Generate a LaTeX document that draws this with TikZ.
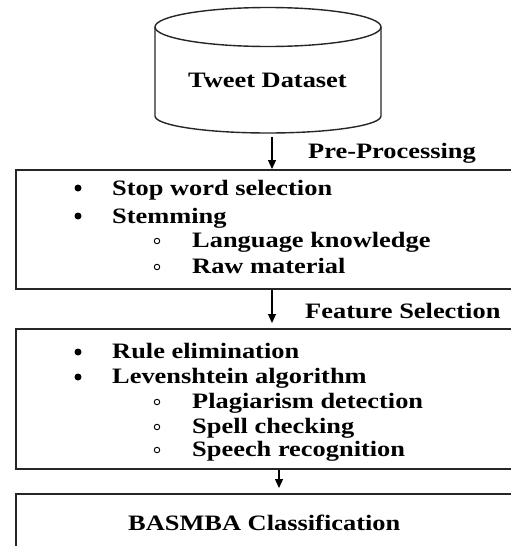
\documentclass[tikz,border=0pt]{standalone}
\usepackage{fontspec}
\newfontfamily\tf{Liberation Serif Bold}[FakeStretch=1.2]
\usetikzlibrary{arrows.meta}
\tikzset{
  box/.style={draw=black!85, line width=1.6pt, rectangle, minimum width=530pt, anchor=north west, inner sep=0pt},
  lbl/.style={font=\tf\fontsize{22}{24}\selectfont, anchor=base west, inner sep=0pt},
  flow/.style={line width=1.2pt, -{Triangle[length=9pt,width=8pt]}},
  dot/.style={circle, fill=black, inner sep=0pt, minimum size=7pt},
  odot/.style={circle, draw=black, line width=0.9pt, inner sep=0pt, minimum size=5.5pt},
  cyl/.style={line width=1.4pt, draw=black!85}
}
\begin{document}
\begin{tikzpicture}[x=1pt,y=-1pt]
\useasboundingbox (0,0) rectangle (511,546);
\clip (0,0) rectangle (511,546);
\fill[white] (0,0) rectangle (511,546);
% cylinder
\draw[cyl] (155,27) -- (155,116) arc[start angle=180,end angle=360,x radius=113,y radius=-17] -- (381,27);
\draw[cyl] (268,27) ellipse [x radius=113, y radius=19.5];
\node[lbl] (tweet) at (188,87) {Tweet Dataset};
\coordinate (c1) at (272,137);
% box 1
\node[box, minimum height=119pt] (b1) at (15,169) {};
\draw[flow] (c1) -- (c1 |- b1.north);
\node[lbl] (pre) at (308,158) {Pre-Processing};
\node[dot] (d1) at (78,188) {};
\node[lbl] (i1) at (112,195) {Stop word selection};
\node[dot] (d2) at (78,216) {};
\node[lbl] (i2) at (112,223) {Stemming};
\node[odot] (o1) at (157,241) {};
\node[lbl] (i3) at (192,247) {Language knowledge};
\node[odot] (o2) at (157,267) {};
\node[lbl] (i4) at (192,273) {Raw material};
% box 2
\node[box, minimum height=140pt] (b2) at (15,328) {};
\coordinate (c2) at (272,323);
\draw[flow] (c2 |- b1.south) -- (c2);
\node[lbl] (fs) at (305,318) {Feature Selection};
\node[dot] (d3) at (78,352) {};
\node[lbl] (j1) at (112,358) {Rule elimination};
\node[dot] (d4) at (78,377) {};
\node[lbl] (j2) at (112,383) {Levenshtein algorithm};
\node[odot] (o3) at (157,402) {};
\node[lbl] (j3) at (192,408) {Plagiarism detection};
\node[odot] (o4) at (157,427) {};
\node[lbl] (j4) at (192,433) {Spell checking};
\node[odot] (o5) at (157,450) {};
\node[lbl] (j5) at (192,456) {Speech recognition};
% box 3
\node[box, minimum height=80pt] (b3) at (15,493) {};
\coordinate (c3) at (279,488);
\draw[flow] (c3 |- b2.south) -- (c3);
\node[lbl] (cls) at (128,530) {BASMBA Classification};
\end{tikzpicture}
\end{document}
